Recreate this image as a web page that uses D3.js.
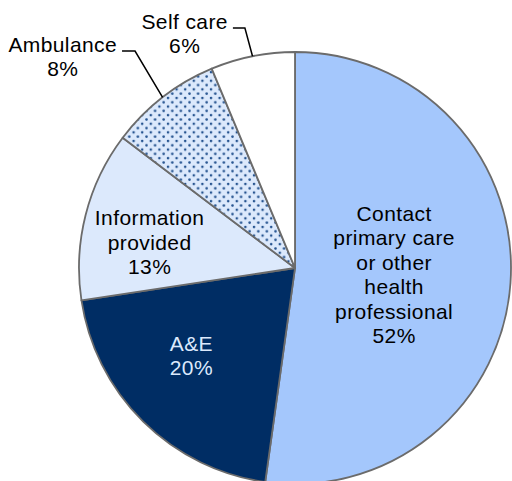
<!DOCTYPE html>
<html>
<head>
<meta charset="utf-8">
<script src="https://cdn.jsdelivr.net/npm/d3@7"></script>
<style>
  body { margin: 0; background: #fff; }
  text { font-family: "Liberation Sans", Arial, sans-serif; letter-spacing: 0.4px; }
</style>
</head>
<body>
<script>
// Data (clockwise from 12 o'clock)
const categories = ['Contact primary care or other health professional', 'A&E', 'Information provided', 'Ambulance', 'Self care']
const values = [52.2, 20.4, 12.7, 8.4, 6.3]
const labelLines = [
  ['Contact', 'primary care', 'or other', 'health', 'professional'],
  ['A&E'],
  ['Information', 'provided'],
  ['Ambulance'],
  ['Self care']
]

// Look
const width = 512
const height = 481
const cx = 295
const cy = 268
const radius = 216
const fontSize = 21
const lineH = 24.4

const fills = ['#a4c7fc', '#002d64', '#dce9fc', 'url(#dots)', '#ffffff']
const textColors = ['#000', '#dce9fc', '#000', '#000', '#000']

// inside labels: radius factor + nudge; outside labels: elbow radius factor + angle nudge (deg)
const labelLayout = [
  { inside: true, k: 0.46, dx: 0, dy: 0 },
  { inside: true, k: 0.63, dx: -8, dy: -9 },
  { inside: true, k: 0.685, dx: -2, dy: 11 },
  { inside: false, k: 1.248, da: 1.4, run: 13 },
  { inside: false, k: 1.135, da: -0.45, run: 12 }
]

function initializeSVG () {
  return d3.select('body')
    .append('svg')
    .attr('width', width)
    .attr('height', height)
}

function addPattern (svg) {
  const p = svg.append('defs')
    .append('pattern')
    .attr('id', 'dots')
    .attr('patternUnits', 'userSpaceOnUse')
    .attr('width', 8.6)
    .attr('height', 8.6)
  p.append('rect').attr('width', 8.6).attr('height', 8.6).attr('fill', '#dce9fc')
  p.append('circle').attr('cx', 2).attr('cy', 2).attr('r', 1.3).attr('fill', '#24528f')
  p.append('circle').attr('cx', 6.3).attr('cy', 6.3).attr('r', 1.3).attr('fill', '#24528f')
}

function polar (angle, r) {
  return [Math.sin(angle) * r, -Math.cos(angle) * r]
}

function drawPie (svg) {
  const pie = d3.pie().sort(null).value(d => d)
  const arcs = pie(values)
  const arc = d3.arc().innerRadius(0).outerRadius(radius)

  const g = svg.append('g').attr('transform', `translate(${cx},${cy})`)

  g.selectAll('path.slice')
    .data(arcs)
    .join('path')
    .attr('class', 'slice')
    .attr('d', arc)
    .attr('fill', (d, i) => fills[i])
    .attr('stroke', '#6b6b6b')
    .attr('stroke-width', 1.8)
    .attr('stroke-linejoin', 'round')

  arcs.forEach((d, i) => {
    const lay = labelLayout[i]
    const mid = (d.startAngle + d.endAngle) / 2
    const lines = labelLines[i].concat([d3.format('.0f')(values[i]) + '%'])

    if (lay.inside) {
      const [px, py] = polar(mid, radius * lay.k)
      const x = px + lay.dx
      const top = py + lay.dy - (lines.length - 1) * lineH / 2 + fontSize * 0.34
      const t = g.append('text')
        .attr('text-anchor', 'middle')
        .attr('font-size', fontSize)
        .attr('fill', textColors[i])
      lines.forEach((ln, j) => {
        t.append('tspan').attr('x', x).attr('y', top + j * lineH).text(ln)
      })
    } else {
      const [sx, sy] = polar(mid, radius)
      const [ex, ey] = polar(mid + lay.da * Math.PI / 180, radius * lay.k)
      const hx = ex - lay.run
      g.append('polyline')
        .attr('points', [[sx, sy], [ex, ey], [hx, ey]].map(p => p.join(',')).join(' '))
        .attr('fill', 'none')
        .attr('stroke', '#000')
        .attr('stroke-width', 1.5)

      const t = g.append('text')
        .attr('text-anchor', 'middle')
        .attr('font-size', fontSize)
        .attr('fill', textColors[i])
      const first = t.append('tspan').attr('y', ey + 0.5).text(lines[0])
      const w = first.node().getComputedTextLength()
      const x = hx - 5 - w / 2
      first.attr('x', x)
      lines.slice(1).forEach((ln, j) => {
        t.append('tspan').attr('x', x).attr('y', ey + 0.5 + (j + 1) * lineH).text(ln)
      })
    }
  })
}

const svg = initializeSVG()
addPattern(svg)
drawPie(svg)
</script>
</body>
</html>
